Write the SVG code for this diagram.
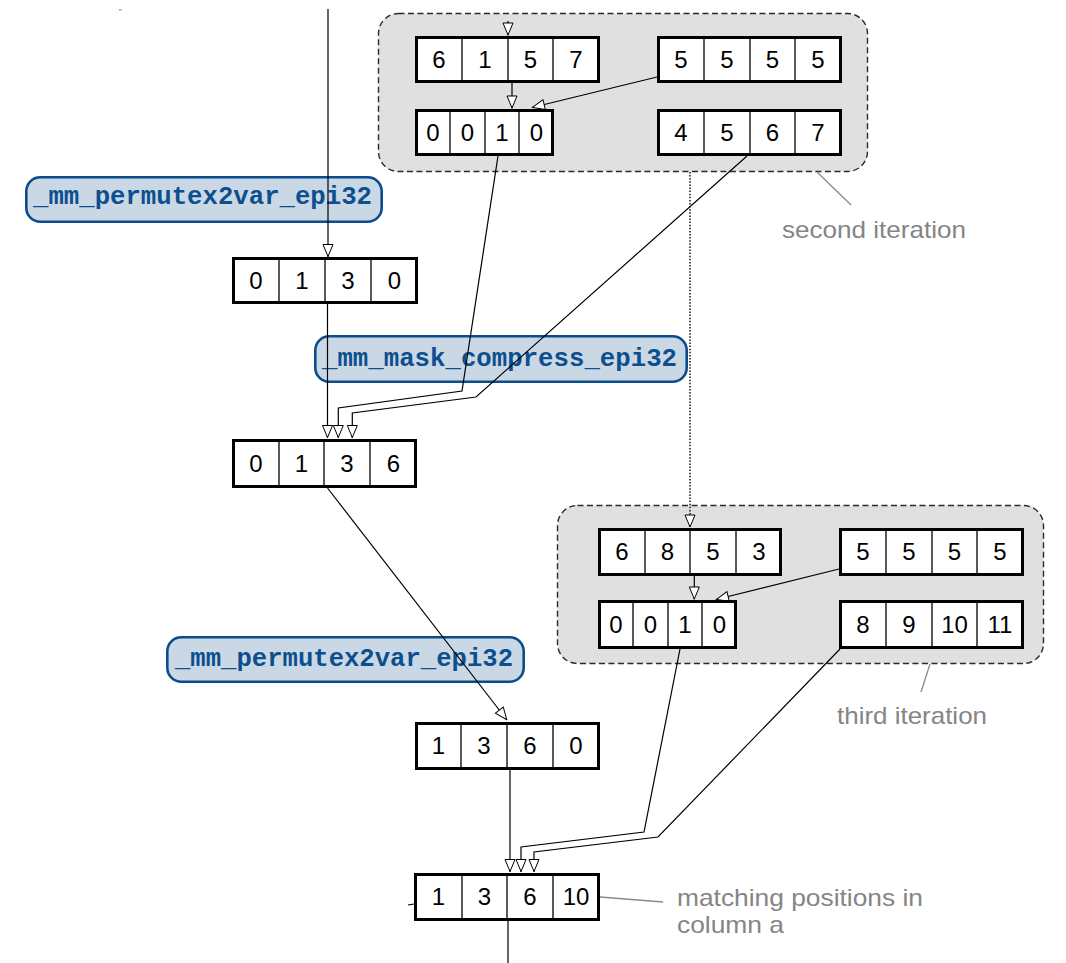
<svg xmlns="http://www.w3.org/2000/svg" width="1066" height="963" viewBox="0 0 1066 963">
  <defs>
    <style>
      .grp { fill: #e0e0e0; stroke: #2a2a2a; stroke-width: 1.4; stroke-dasharray: 6 3.5; }
      .frame { fill: #ffffff; stroke: #000000; stroke-width: 3; }
      .div { stroke: #000000; stroke-width: 1.3; }
      .num { font-family: "Liberation Sans", Arial, sans-serif; font-size: 24px; fill: #000000; text-anchor: middle; }
      .fn { fill: #cad8e6; stroke: #0b4c8c; stroke-width: 2.6; }
      .fntxt { font-family: "Liberation Mono", "Courier New", monospace; font-weight: bold; font-size: 25.7px; fill: #0d4f8e; }
      .wire { fill: none; stroke: #000000; stroke-width: 1.2; }
      .dots { fill: none; stroke: #222222; stroke-width: 1.6; stroke-dasharray: 1.5 1.6; }
      .note { font-family: "Liberation Sans", Arial, sans-serif; font-size: 24px; fill: #858585; }
      .lead { fill: none; stroke: #8a8a8a; stroke-width: 1.3; }
    </style>
    <marker id="tri" viewBox="0 0 14 12" refX="13.5" refY="6" markerWidth="14" markerHeight="12" markerUnits="userSpaceOnUse" orient="auto">
      <path d="M1,1 L13,6 L1,11 Z" fill="#ffffff" stroke="#000000" stroke-width="1" stroke-dasharray="none"/>
    </marker>
  </defs>

  <rect x="119" y="9" width="2.5" height="1.5" fill="#9a9a9a"/>

  <!-- iteration panels -->
  <g id="second-iteration">
    <rect class="grp" x="378.5" y="13.5" width="489" height="158" rx="20"/>
    <line class="lead" x1="817" y1="172" x2="851" y2="205"/>
    <text class="note" x="782" y="238" textLength="184" lengthAdjust="spacingAndGlyphs">second iteration</text>
  </g>
  <g id="third-iteration">
    <rect class="grp" x="557.5" y="505.5" width="486" height="158" rx="20"/>
    <line class="lead" x1="930" y1="664" x2="921" y2="692"/>
    <text class="note" x="837" y="724" textLength="150" lengthAdjust="spacingAndGlyphs">third iteration</text>
  </g>

  <!-- intrinsic labels -->
  <g id="fn-permute-1">
    <rect class="fn" x="26.3" y="177.3" width="355.4" height="44.4" rx="14"/>
    <text class="fntxt" x="33" y="204" textLength="339" lengthAdjust="spacingAndGlyphs">_mm_permutex2var_epi32</text>
  </g>
  <g id="fn-compress">
    <rect class="fn" x="315.3" y="336.3" width="371.4" height="45.4" rx="14"/>
    <text class="fntxt" x="322" y="366" textLength="355" lengthAdjust="spacingAndGlyphs">_mm_mask_compress_epi32</text>
  </g>
  <g id="fn-permute-2">
    <rect class="fn" x="167.3" y="637.3" width="356.4" height="44.4" rx="14"/>
    <text class="fntxt" x="175" y="666" textLength="338" lengthAdjust="spacingAndGlyphs">_mm_permutex2var_epi32</text>
  </g>

  <!-- data flow -->
  <g id="connectors">
    <path class="wire" d="M328,9 V257" marker-end="url(#tri)"/>
    <path class="wire" d="M327.5,304 V438" marker-end="url(#tri)"/>
    <path class="wire" d="M508,21 V35.5" marker-end="url(#tri)"/>
    <line class="wire" x1="508" y1="36" x2="508" y2="83"/>
    <path class="wire" d="M512,83 V108.5" marker-end="url(#tri)"/>
    <path class="wire" d="M657,77 L532,107.5" marker-end="url(#tri)"/>
    <path class="wire" d="M498,156 L462,391 L338.3,408 V438" marker-end="url(#tri)"/>
    <path class="wire" d="M747,156 L476,397 L352.3,413 V438" marker-end="url(#tri)"/>
    <path class="wire" d="M327.5,488 L507,720" marker-end="url(#tri)"/>
    <path class="dots" d="M690,172 V527.5" marker-end="url(#tri)"/>
    <path class="wire" d="M694.3,576 V599.5" marker-end="url(#tri)"/>
    <path class="wire" d="M839,569 L716,599.5" marker-end="url(#tri)"/>
    <path class="wire" d="M680,649 L644,832 L521,847 V872" marker-end="url(#tri)"/>
    <path class="wire" d="M840,649 L658,837 L534,852 V872" marker-end="url(#tri)"/>
    <path class="wire" d="M510,770 V872" marker-end="url(#tri)"/>
    <line class="wire" x1="508" y1="921" x2="508" y2="963"/>
    <line class="wire" x1="408" y1="905" x2="414" y2="904"/>
    <line class="lead" x1="600" y1="897" x2="663" y2="902"/>
  </g>

  <!-- vectors -->
  <g id="vec-0130">
    <rect class="frame" x="233.5" y="258.5" width="183" height="44"/>
    <path class="div" d="M279,258.5 V302.5 M325,258.5 V302.5 M371,258.5 V302.5"/>
    <text class="num" x="256" y="289">0</text><text class="num" x="302" y="289">1</text>
    <text class="num" x="348" y="289">3</text><text class="num" x="394.5" y="289">0</text>
  </g>
  <g id="vec-6157">
    <rect class="frame" x="416.5" y="37.5" width="182" height="44"/>
    <path class="div" d="M462,37.5 V81.5 M508,37.5 V81.5 M553,37.5 V81.5"/>
    <text class="num" x="439" y="68">6</text><text class="num" x="485" y="68">1</text>
    <text class="num" x="530.5" y="68">5</text><text class="num" x="576" y="68">7</text>
  </g>
  <g id="vec-5555-a">
    <rect class="frame" x="658.5" y="37.5" width="182" height="44"/>
    <path class="div" d="M704,37.5 V81.5 M750,37.5 V81.5 M795,37.5 V81.5"/>
    <text class="num" x="681" y="68">5</text><text class="num" x="727" y="68">5</text>
    <text class="num" x="772.5" y="68">5</text><text class="num" x="818" y="68">5</text>
  </g>
  <g id="mask-0010-a">
    <rect class="frame" x="416.5" y="110.5" width="136" height="44"/>
    <path class="div" d="M450,110.5 V154.5 M485,110.5 V154.5 M519,110.5 V154.5"/>
    <text class="num" x="433" y="141">0</text><text class="num" x="467.5" y="141">0</text>
    <text class="num" x="502" y="141">1</text><text class="num" x="536.5" y="141">0</text>
  </g>
  <g id="vec-4567">
    <rect class="frame" x="658.5" y="110.5" width="182" height="44"/>
    <path class="div" d="M704,110.5 V154.5 M750,110.5 V154.5 M795,110.5 V154.5"/>
    <text class="num" x="681" y="141">4</text><text class="num" x="727" y="141">5</text>
    <text class="num" x="772.5" y="141">6</text><text class="num" x="818" y="141">7</text>
  </g>
  <g id="vec-0136">
    <rect class="frame" x="233.5" y="440.5" width="182" height="46"/>
    <path class="div" d="M279,440.5 V486.5 M324,440.5 V486.5 M370,440.5 V486.5"/>
    <text class="num" x="256" y="472">0</text><text class="num" x="301.5" y="472">1</text>
    <text class="num" x="347" y="472">3</text><text class="num" x="393.5" y="472">6</text>
  </g>
  <g id="vec-6853">
    <rect class="frame" x="599.5" y="529.5" width="181" height="45"/>
    <path class="div" d="M645,529.5 V574.5 M690,529.5 V574.5 M736,529.5 V574.5"/>
    <text class="num" x="622" y="560">6</text><text class="num" x="667.5" y="560">8</text>
    <text class="num" x="713" y="560">5</text><text class="num" x="759" y="560">3</text>
  </g>
  <g id="vec-5555-b">
    <rect class="frame" x="840.5" y="529.5" width="182" height="45"/>
    <path class="div" d="M886,529.5 V574.5 M932,529.5 V574.5 M977,529.5 V574.5"/>
    <text class="num" x="863" y="560">5</text><text class="num" x="909" y="560">5</text>
    <text class="num" x="954.5" y="560">5</text><text class="num" x="1000" y="560">5</text>
  </g>
  <g id="mask-0010-b">
    <rect class="frame" x="599.5" y="601.5" width="136" height="46"/>
    <path class="div" d="M633,601.5 V647.5 M668,601.5 V647.5 M702,601.5 V647.5"/>
    <text class="num" x="616" y="633">0</text><text class="num" x="650.5" y="633">0</text>
    <text class="num" x="685" y="633">1</text><text class="num" x="719.5" y="633">0</text>
  </g>
  <g id="vec-891011">
    <rect class="frame" x="840.5" y="601.5" width="182" height="46"/>
    <path class="div" d="M886,601.5 V647.5 M932,601.5 V647.5 M977,601.5 V647.5"/>
    <text class="num" x="863" y="633">8</text><text class="num" x="909" y="633">9</text>
    <text class="num" x="954.5" y="633">10</text><text class="num" x="1000" y="633">11</text>
  </g>
  <g id="vec-1360">
    <rect class="frame" x="416.5" y="723.5" width="182" height="45"/>
    <path class="div" d="M461,723.5 V768.5 M507,723.5 V768.5 M553,723.5 V768.5"/>
    <text class="num" x="438.5" y="754">1</text><text class="num" x="484" y="754">3</text>
    <text class="num" x="530" y="754">6</text><text class="num" x="576" y="754">0</text>
  </g>
  <g id="vec-13610">
    <rect class="frame" x="415.5" y="874.5" width="183" height="45"/>
    <path class="div" d="M462,874.5 V919.5 M507,874.5 V919.5 M553,874.5 V919.5"/>
    <text class="num" x="438.5" y="905">1</text><text class="num" x="484.5" y="905">3</text>
    <text class="num" x="530" y="905">6</text><text class="num" x="576" y="905">10</text>
  </g>

  <g id="result-note">
    <text class="note" x="677" y="906" textLength="246" lengthAdjust="spacingAndGlyphs">matching positions in</text>
    <text class="note" x="677" y="933" textLength="107" lengthAdjust="spacingAndGlyphs">column a</text>
  </g>
</svg>
